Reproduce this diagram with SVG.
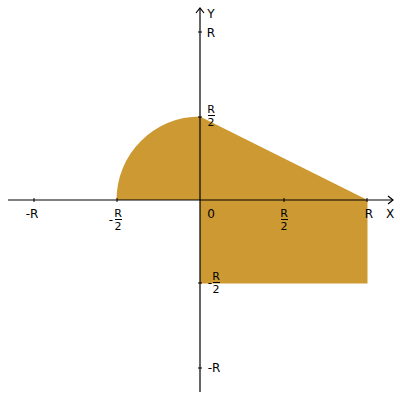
<svg xmlns="http://www.w3.org/2000/svg" width="400" height="400" viewBox="0 0 400 400">
<style>
text{font-family:"DejaVu Sans","Liberation Sans",sans-serif;font-size:12px;fill:#000}
.f{font-size:11px}
.ax{stroke:#000;stroke-width:1.2;fill:none}
.tk{stroke:#000;stroke-width:1;fill:none}
.m{text-anchor:middle}
</style>
<rect width="400" height="400" fill="#fff"/>
<g id="region">
<path d="M200 200 L116.5 200 A83.5 83.5 0 0 1 200 116.5 L367.5 200 L367.5 283.5 L200 283.5 Z" fill="#CC9933"/>
</g>
<g id="axes">
<line class="ax" x1="8" y1="200" x2="393" y2="200"/>
<polyline class="ax" points="388,196 393,200 388,204"/>
<line class="ax" x1="200" y1="392" x2="200" y2="8"/>
<polyline class="ax" points="196,13 200,8 204,13"/>
<g class="tk">
<line x1="34" y1="198" x2="34" y2="202"/>
<line x1="117" y1="198" x2="117" y2="202"/>
<line x1="284" y1="198" x2="284" y2="202"/>
<line x1="367" y1="198" x2="367" y2="202"/>
<line x1="198" y1="32" x2="202" y2="32"/>
<line x1="198" y1="117" x2="202" y2="117"/>
<line x1="198" y1="283" x2="202" y2="283"/>
<line x1="198" y1="368" x2="202" y2="368"/>
</g>
</g>
<g id="labels">
<text x="390" y="218" class="m">X</text>
<text x="211" y="18" class="m">Y</text>
<text x="32" y="218" class="m">-R</text>
<text x="211" y="218" class="m">0</text>
<text x="369" y="218" class="m">R</text>
<text x="284" y="217" class="m f">R</text>
<line class="tk" x1="281" y1="219.5" x2="288" y2="219.5"/>
<text x="284" y="230" class="m f">2</text>
<text x="111" y="224" class="m">-</text>
<text x="118" y="217" class="m f">R</text>
<line class="tk" x1="115" y1="219.5" x2="122" y2="219.5"/>
<text x="118" y="230" class="m f">2</text>
<text x="211" y="37" class="m">R</text>
<text x="211" y="113" class="m f">R</text>
<line class="tk" x1="208" y1="115.5" x2="215" y2="115.5"/>
<text x="211" y="126" class="m f">2</text>
<text x="210" y="287" class="m">-</text>
<text x="216" y="280" class="m f">R</text>
<line class="tk" x1="213" y1="282.5" x2="220" y2="282.5"/>
<text x="216" y="293" class="m f">2</text>
<text x="214" y="372" class="m">-R</text>
</g>
</svg>
